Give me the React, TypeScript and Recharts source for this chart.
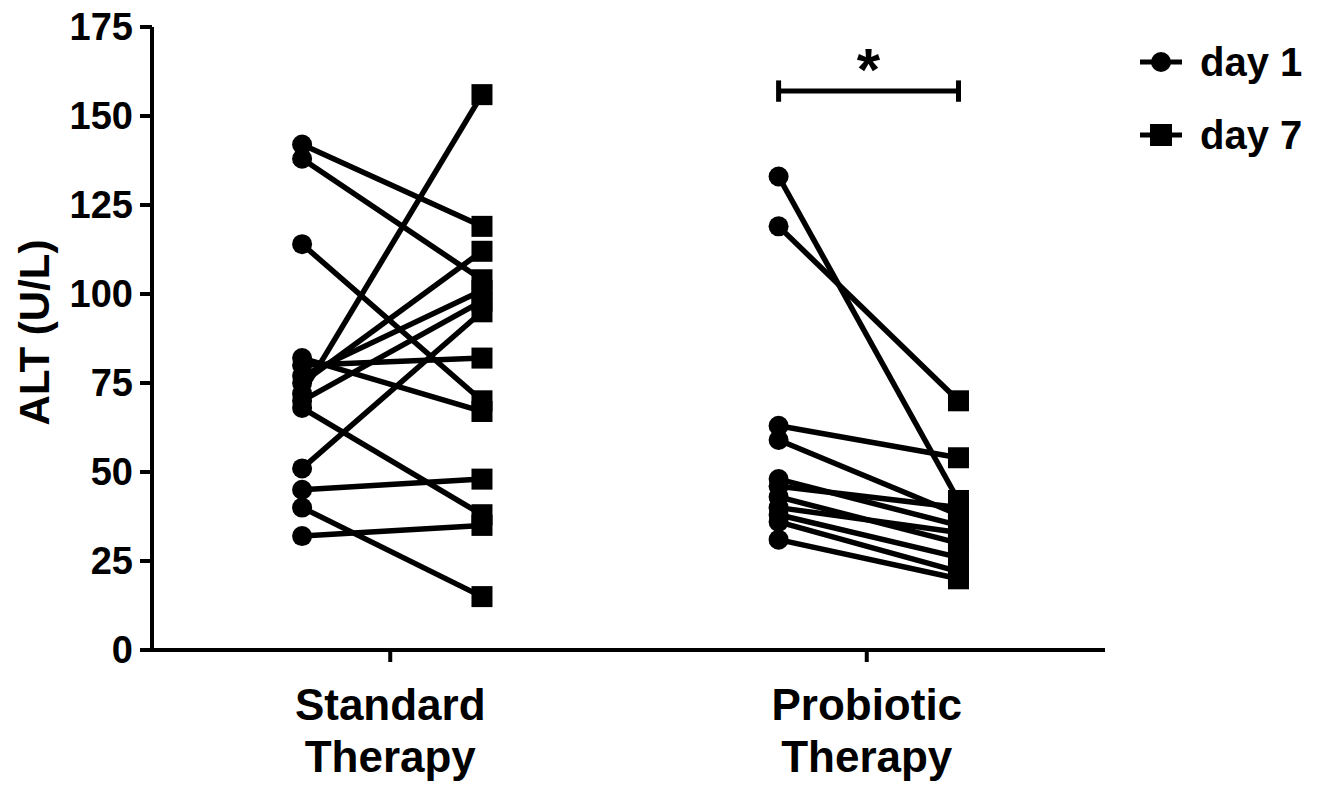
import React from 'react';
import { LineChart, Line, XAxis, YAxis, ReferenceLine, ReferenceDot } from 'recharts';

// values
const groupLabels = [['Standard', 'Therapy'], ['Probiotic', 'Therapy']];
const yTicks = [0, 25, 50, 75, 100, 125, 150, 175];
const seriesNames = ['day 1', 'day 7'];

const standardDay1 = [142, 138, 114, 82, 80, 77, 75, 72, 70, 68, 51, 45, 40, 32];
const standardDay7 = [119, 104, 70, 67, 82, 101, 112, 156, 98, 38, 95, 48, 15, 35];

const probioticDay1 = [133, 119, 63, 59, 48, 46, 43, 40, 38, 36, 31];
const probioticDay7 = [42, 70, 54, 38, 35, 40, 30, 33, 26, 22, 20];

const sigText = '*';
const sigLevel = 157;

// layout
const FONT = "'Liberation Sans', Arial, Helvetica, sans-serif";
const GROUP_X = [1, 3];
const DAY1_OFF = -0.37;
const DAY7_OFF = 0.385;

const makePairs = (prefix: string, gx: number, d1: number[], d7: number[]) =>
  d1.map((v, i) => ({
    id: `${prefix}${i}`,
    data: [
      { x: gx + DAY1_OFF, y: v },
      { x: gx + DAY7_OFF, y: d7[i] },
    ],
  }));

const pairs = [
  ...makePairs('s', GROUP_X[0], standardDay1, standardDay7),
  ...makePairs('p', GROUP_X[1], probioticDay1, probioticDay7),
];

const PairDot = (props: any) => {
  const { cx, cy, index } = props;
  const k = `${cx}-${cy}-${index}`;
  if (cx == null || cy == null) return <g key={k} />;
  if (index === 0) return <circle key={k} cx={cx} cy={cy} r={10} fill="#000" />;
  return <rect key={k} x={cx - 10.5} y={cy - 10.5} width={21} height={21} fill="#000" />;
};

const XTick = (props: any) => {
  const { x, y, payload } = props;
  const idx = GROUP_X.indexOf(payload.value);
  const lines = groupLabels[idx] || [];
  return (
    <text x={x} y={y} textAnchor="middle" fontFamily={FONT} fontWeight="bold" fontSize={44} fill="#000">
      <tspan x={x} dy={56}>{lines[0]}</tspan>
      <tspan x={x} dy={52}>{lines[1]}</tspan>
    </text>
  );
};

const YLabel = (props: any) => {
  const vb = props.viewBox || {};
  const cy = (vb.y || 0) + (vb.height || 0) / 2 - 6;
  return (
    <text
      x={34}
      y={cy}
      transform={`rotate(-90 34 ${cy})`}
      textAnchor="middle"
      dominantBaseline="central"
      fontFamily={FONT}
      fontWeight="bold"
      fontSize={42}
      fill="#000"
    >
      ALT (U/L)
    </text>
  );
};

const bracketL = GROUP_X[1] + DAY1_OFF;
const bracketR = GROUP_X[1] + DAY7_OFF;

const LegendBox = () => (
  <div style={{ position: 'absolute', left: 1136, top: 38, fontFamily: FONT, fontWeight: 'bold', fontSize: 40 }}>
    {seriesNames.map((name, i) => (
      <div key={name} style={{ display: 'flex', alignItems: 'center', height: 48, marginBottom: i === 0 ? 25 : 0 }}>
        <svg width={50} height={30} style={{ marginRight: 14 }}>
          <line x1={4} y1={15} x2={46} y2={15} stroke="#000" strokeWidth={5} />
          {i === 0 ? <circle cx={25} cy={15} r={10} fill="#000" /> : <rect x={14} y={4} width={22} height={22} fill="#000" />}
        </svg>
        <span>{name}</span>
      </div>
    ))}
  </div>
);

export default function App() {
  return (
    <div style={{ position: 'absolute', left: 0, top: 0, width: 1331, height: 790, background: '#fff' }}>
      <LineChart width={1331} height={790} margin={{ top: 27, right: 226, bottom: 10, left: 30 }}>
        <XAxis
          dataKey="x"
          type="number"
          domain={[0, 4]}
          ticks={GROUP_X}
          tick={<XTick />}
          height={130}
          axisLine={{ stroke: '#000', strokeWidth: 4 }}
          tickLine={{ stroke: '#000', strokeWidth: 4 }}
          tickSize={12}
          allowDuplicatedCategory={false}
        />
        <YAxis
          type="number"
          domain={[0, 175]}
          ticks={yTicks}
          width={122}
          axisLine={{ stroke: '#000', strokeWidth: 4 }}
          tickLine={{ stroke: '#000', strokeWidth: 4 }}
          tickSize={12}
          tickMargin={7}
          tick={{ fill: '#000', fontFamily: FONT, fontWeight: 'bold', fontSize: 38 }}
          label={<YLabel />}
        />
        {pairs.map((p) => (
          <Line
            key={p.id}
            data={p.data}
            dataKey="y"
            stroke="#000"
            strokeWidth={5.5}
            dot={PairDot}
            activeDot={false}
            isAnimationActive={false}
            legendType="none"
          />
        ))}
        <ReferenceLine segment={[{ x: bracketL, y: sigLevel }, { x: bracketR, y: sigLevel }]} stroke="#000" strokeWidth={5} />
        <ReferenceLine segment={[{ x: bracketL, y: sigLevel - 3 }, { x: bracketL, y: sigLevel + 3 }]} stroke="#000" strokeWidth={5} />
        <ReferenceLine segment={[{ x: bracketR, y: sigLevel - 3 }, { x: bracketR, y: sigLevel + 3 }]} stroke="#000" strokeWidth={5} />
        <ReferenceDot
          x={(bracketL + bracketR) / 2}
          y={sigLevel}
          r={0}
          shape={(s: any) => (
            <text x={s.cx} y={s.cy - 1} textAnchor="middle" fontFamily={FONT} fontWeight="bold" fontSize={60} fill="#000">
              {sigText}
            </text>
          )}
        />
      </LineChart>
      <LegendBox />
    </div>
  );
}
